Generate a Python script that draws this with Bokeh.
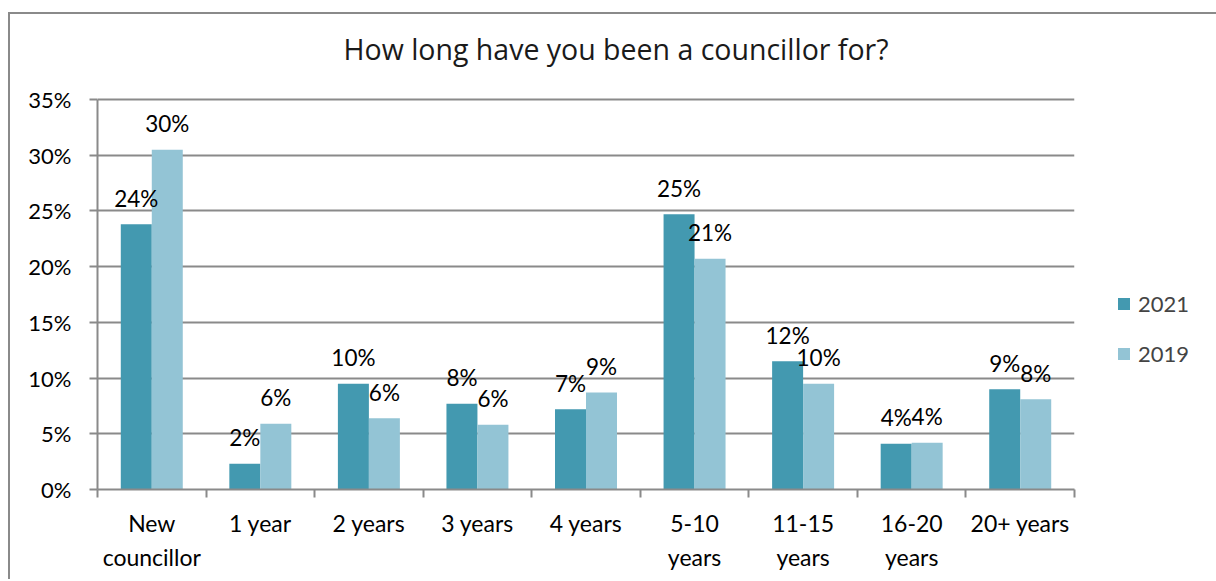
from bokeh.plotting import figure
from bokeh.models import FixedTicker, PrintfTickFormatter, Legend, LegendItem, ColumnDataSource, Range1d
from bokeh.embed import file_html
from bokeh.resources import INLINE
from bokeh.core.properties import value

# ---- data ----
categories = ["New\ncouncillor", "1 year", "2 years", "3 years", "4 years",
              "5-10\nyears", "11-15\nyears", "16-20\nyears", "20+ years"]
series = ["2021", "2019"]
values_2021 = [23.8, 2.3, 9.5, 7.7, 7.2, 24.7, 11.5, 4.1, 9.0]
values_2019 = [30.5, 5.9, 6.4, 5.8, 8.7, 20.7, 9.5, 4.2, 8.1]
labels_2021 = ["24%", "2%", "10%", "8%", "7%", "25%", "12%", "4%", "9%"]
labels_2019 = ["30%", "6%", "6%", "6%", "9%", "21%", "10%", "4%", "8%"]
y_ticks = [0, 5, 10, 15, 20, 25, 30, 35]
title_text = "How long have you been a councillor for?"

# ---- style ----
C2021 = "#4399b0"
C2019 = "#93c4d5"
GRAY = "#8a8a8a"
FONT = "Lato"
BAR_W = 0.2855
Y_MAX = y_ticks[-1]
Y_TOP = Y_MAX * 459 / 390   # extra headroom above the top gridline holds the title

n = len(categories)
idx = list(range(n))
src21 = ColumnDataSource(dict(x=[i - BAR_W / 2 for i in idx], top=values_2021, lab=labels_2021))
src19 = ColumnDataSource(dict(x=[i + BAR_W / 2 for i in idx], top=values_2019, lab=labels_2019))

p = figure(frame_width=977, frame_height=459, output_backend="svg", toolbar_location=None,
           x_range=Range1d(-0.5, n - 0.5), y_range=Range1d(0, Y_TOP),
           min_border_left=87, min_border_right=140, min_border_top=16, min_border_bottom=90)
p.margin = (12, 0, 0, 8)
p.styles = {"border-left": "2px solid #8a8a8a", "border-top": "2px solid #8a8a8a"}
p.outline_line_color = None
p.background_fill_color = "white"
p.border_fill_color = "white"

r21 = p.vbar(x="x", top="top", width=BAR_W, source=src21, fill_color=C2021, line_color=None)
r19 = p.vbar(x="x", top="top", width=BAR_W, source=src19, fill_color=C2019, line_color=None)

for s in (src21, src19):
    p.text(x="x", y="top", text="lab", source=s, text_align="center", text_baseline="alphabetic",
           y_offset=-26, text_font=value(FONT), text_font_size="22.5px", text_color="#000000")

# chart title (anchored to the frame's left edge and the top gridline)
p.text(x=[-0.5], y=[Y_MAX], text=[title_text], text_align="left", text_baseline="alphabetic",
       x_offset=246, y_offset=-51, text_font=value("Open Sans"), text_font_size="28.5px",
       text_color="#1a1a1a")

# grid
p.xgrid.visible = False
p.ygrid.grid_line_color = GRAY
p.ygrid.grid_line_width = 2
p.ygrid.ticker = FixedTicker(ticks=y_ticks)

# y axis
p.yaxis.ticker = FixedTicker(ticks=y_ticks)
p.yaxis.bounds = (0, Y_MAX)
p.yaxis.formatter = PrintfTickFormatter(format="%d%%")
p.yaxis.axis_line_color = GRAY
p.yaxis.axis_line_width = 2
p.yaxis.major_tick_line_color = GRAY
p.yaxis.major_tick_line_width = 2
p.yaxis.major_tick_out = 8
p.yaxis.major_tick_in = 0
p.yaxis.minor_tick_line_color = None
p.yaxis.major_label_standoff = 18
p.yaxis.major_label_text_font = FONT
p.yaxis.major_label_text_font_size = "22px"
p.yaxis.major_label_text_color = "#000000"

# x axis
p.xaxis.ticker = FixedTicker(ticks=idx, minor_ticks=[i - 0.5 for i in range(n + 1)])
p.xaxis.major_label_overrides = {i: c for i, c in zip(idx, categories)}
p.xaxis.axis_line_color = GRAY
p.xaxis.axis_line_width = 2
p.xaxis.major_tick_line_color = None
p.xaxis.major_tick_out = 0
p.xaxis.major_tick_in = 0
p.xaxis.minor_tick_line_color = GRAY
p.xaxis.minor_tick_line_width = 2
p.xaxis.minor_tick_out = 8
p.xaxis.minor_tick_in = 0
p.xaxis.major_label_standoff = 11
p.xaxis.major_label_text_font = FONT
p.xaxis.major_label_text_font_size = "23px"
p.xaxis.major_label_text_color = "#000000"
p.xaxis.major_label_text_line_height = 1.24

# legend
legend = Legend(items=[LegendItem(label=series[0], renderers=[r21]),
                       LegendItem(label=series[1], renderers=[r19])],
                location=(42, 122), orientation="vertical",
                glyph_width=15, glyph_height=15, label_text_font=FONT,
                label_text_font_size="22px", label_standoff=7, spacing=23,
                padding=0, margin=0, border_line_color=None, background_fill_alpha=0)
p.add_layout(legend, "right")

open("out.html", "w").write(file_html(p, INLINE))
